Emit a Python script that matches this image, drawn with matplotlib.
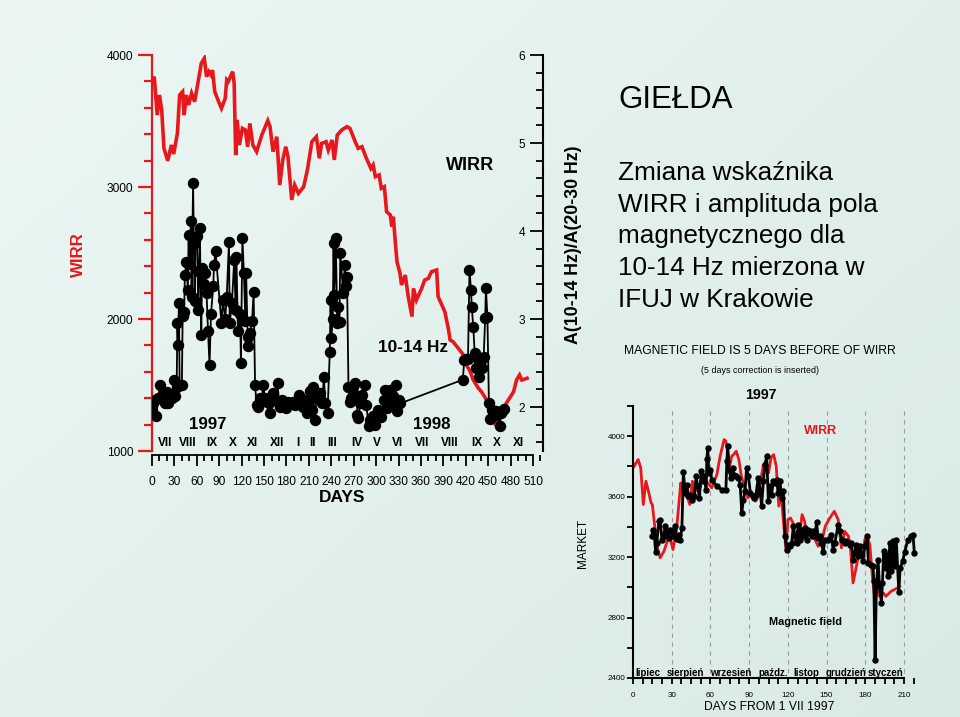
import matplotlib
matplotlib.use('Agg')
import matplotlib.pyplot as plt
import matplotlib.transforms as mtransforms
from matplotlib.ticker import MultipleLocator
import numpy as np

plt.rcParams['font.family'] = ['Liberation Sans', 'DejaVu Sans']

RED = '#e8171c'

# ---------------- left chart: WIRR (red) and field ratio (black) ----------------
wirr_days = [0, 3, 7, 10, 13, 16, 21, 26, 29, 34, 37, 41, 43, 46, 49, 53, 57, 61, 66, 70,
             73, 76, 79, 81, 84, 91, 93, 98, 100, 102, 108, 110, 112, 114, 117, 121, 125, 128,
             131, 135, 140, 147, 155, 158, 162, 167, 171, 175, 179, 182, 187, 191, 196, 203,
             208, 214, 220, 224, 227, 233, 236, 241, 244, 248, 254, 261, 265, 272, 276, 281,
             287, 293, 296, 299, 304, 307, 311, 314, 319, 321, 323, 326, 328, 332, 334, 339,
             343, 348, 350, 354, 361, 365, 370, 374, 381, 383, 388, 392, 397, 399, 403, 410,
             417, 421, 426, 430, 437, 441, 448, 453, 459, 464, 470, 477, 484, 488, 492, 495, 502]
wirr_vals = [3798, 3836, 3545, 3697, 3583, 3293, 3199, 3318, 3250, 3407, 3697, 3722, 3545, 3697,
             3621, 3710, 3646, 3773, 3937, 3975, 3836, 3874, 3848, 3886, 3722, 3621, 3596, 3671,
             3811, 3798, 3874, 3785, 3242, 3508, 3318, 3444, 3432, 3305, 3482, 3318, 3268, 3394,
             3503, 3457, 3268, 3381, 3015, 3205, 3305, 3230, 2902, 3015, 2952, 3002, 3129, 3343,
             3381, 3217, 3330, 3343, 3280, 3356, 3205, 3394, 3432, 3457, 3444, 3343, 3293, 3305,
             3217, 3141, 3167, 3078, 3091, 2990, 3002, 2813, 2788, 2699, 2775, 2560, 2432, 2346,
             2258, 2333, 2169, 2018, 2232, 2144, 2232, 2295, 2308, 2358, 2371, 2169, 2106, 2055,
             1917, 1841, 1828, 1778, 1727, 1652, 1601, 1538, 1475, 1449, 1386, 1323, 1210, 1235,
             1323, 1386, 1449, 1538, 1576, 1538, 1551]

ratio_days = [0, 2, 4, 6, 8, 11, 13, 15, 17, 20, 22, 25, 27, 29, 31, 33, 34, 35, 36, 37, 40, 41,
              43, 44, 46, 48, 49, 50, 52, 53, 55, 56, 57, 58, 60, 61, 62, 64, 66, 67, 69, 71, 73,
              75, 77, 79, 82, 83, 85, 93, 95, 98, 100, 103, 104, 107, 110, 112, 113, 115, 118,
              119, 121, 123, 125, 126, 128, 129, 131, 134, 136, 138, 140, 142, 145, 147, 149,
              151, 154, 156, 158, 160, 162, 165, 168, 170, 172, 174, 176, 178, 180, 182, 185,
              187, 189, 192, 194, 197, 199, 202, 205, 207, 209, 211, 214, 215, 218, 220, 222,
              225, 228, 230, 232, 235, 238, 239, 240, 242, 243, 244, 246, 248, 249, 251, 252,
              256, 258, 260, 261, 263, 265, 267, 269, 272, 274, 275, 276, 279, 281, 285, 287,
              290, 292, 294, 296, 298, 300, 303, 305, 307, 310, 312, 314, 316, 318, 320, 323,
              325, 326, 328, 330, 332, 416, 418, 420, 423, 425, 427, 428, 430, 432, 434, 436,
              438, 440, 442, 444, 446, 447, 449, 451, 453, 455, 457, 459, 461, 463, 466, 467,
              469, 471]
ratio_vals = [1.97, 2.05, 2.08, 1.90, 2.10, 2.25, 2.10, 2.12, 2.04, 2.17, 2.04, 2.14, 2.10, 2.31,
              2.12, 2.23, 2.96, 2.70, 3.18, 2.25, 2.25, 3.03, 3.08, 3.50, 3.65, 3.33, 3.95, 3.62,
              4.11, 3.25, 4.54, 3.85, 3.20, 3.90, 3.94, 3.55, 3.10, 4.03, 2.82, 3.58, 3.40, 3.52,
              3.29, 2.86, 2.48, 3.06, 3.37, 3.61, 3.77, 2.95, 3.22, 3.00, 3.25, 3.87, 2.95, 3.18,
              3.67, 3.10, 3.71, 2.86, 3.06, 2.50, 3.92, 3.52, 2.98, 3.52, 2.80, 2.69, 2.84, 2.98,
              3.31, 2.25, 2.02, 2.00, 2.10, 2.08, 2.25, 2.10, 2.06, 2.04, 1.93, 2.12, 2.16, 2.08,
              2.27, 2.05, 2.00, 2.08, 2.05, 2.06, 1.99, 2.06, 2.04, 2.05, 2.06, 2.02, 2.07, 2.14,
              2.05, 2.00, 2.08, 1.93, 2.06, 2.18, 1.97, 2.23, 1.85, 2.10, 2.15, 2.16, 2.04, 2.34,
              2.05, 1.93, 2.63, 3.22, 2.78, 3.00, 3.86, 3.27, 3.92, 2.95, 3.14, 2.97, 3.75, 3.29,
              3.61, 3.37, 3.48, 2.23, 2.06, 2.10, 2.23, 2.27, 2.12, 1.91, 1.87, 2.05, 2.14, 2.25,
              2.02, 1.78, 1.85, 1.84, 1.90, 1.80, 1.88, 1.97, 1.95, 1.89, 2.08, 2.19, 1.99, 2.05,
              2.19, 2.02, 2.12, 2.04, 2.25, 1.96, 2.08, 2.04, 2.31, 2.53, 2.55, 2.55, 3.56, 3.33,
              3.14, 2.91, 2.61, 2.44, 2.55, 2.34, 2.53, 2.44, 2.57, 3.01, 3.35, 3.02, 2.04, 1.86,
              1.97, 1.90, 1.91, 1.95, 1.93, 1.78, 1.93, 1.96, 1.98]

months_roman = ['VII', 'VIII', 'IX', 'X', 'XI', 'XII', 'I', 'II', 'III', 'IV', 'V', 'VI',
                'VII', 'VIII', 'IX', 'X', 'XI']
months_roman_days = [17, 48, 80, 108, 135, 167, 195, 215, 241, 274, 301, 328, 361, 399, 435,
                     462, 490]

# ---------------- bottom-right chart: market (WIRR) and magnetic field ----------------
mk_days = [0.5, 4, 6, 8, 10, 12, 14, 15, 17, 19, 21, 24, 27, 29, 31, 34, 37, 38, 40, 42, 44,
           46, 47, 49, 53, 57, 61, 65, 67.5, 70.6, 72, 74, 75, 76.5, 78, 80, 82, 84, 87, 89,
           92, 95, 97, 100, 101, 103, 105, 107, 109, 111, 113, 115, 116, 118.5, 120, 122, 124,
           125.5, 128, 129, 131, 133, 135, 138, 141, 143.5, 146, 149, 152.5, 156, 159, 161.5,
           164, 167, 168.5, 170.5, 172.6, 174.4, 175.7, 177.8, 179.6, 181.4, 183.5, 185.5, 187,
           189, 191, 194, 196, 200, 205, 206.6]
mk_wirr = [3797, 3846, 3790, 3548, 3702, 3636, 3559, 3548, 3393, 3261, 3195, 3239, 3316, 3316,
           3250, 3404, 3691, 3647, 3636, 3603, 3548, 3702, 3614, 3647, 3691, 3702, 3658, 3746,
           3868, 3978, 3967, 3857, 3801, 3868, 3879, 3901, 3846, 3735, 3647, 3592, 3625, 3570,
           3603, 3757, 3812, 3834, 3757, 3857, 3879, 3801, 3537, 3625, 3492, 3250, 3448, 3459,
           3426, 3316, 3382, 3338, 3481, 3437, 3327, 3382, 3316, 3272, 3294, 3404, 3459, 3503,
           3448, 3261, 3371, 3338, 3261, 3029, 3117, 3195, 3250, 3184, 3316, 3338, 3283, 3073,
           2952, 2985, 2941, 2963, 2941, 2974, 2996, 3007]

mf_days = [14.7, 15.5, 16.5, 17.5, 18.5, 20, 21, 22.4, 23.7, 25, 26, 27.6, 29, 31, 32.7, 34,
           35.3, 36.6, 37.9, 39, 40.5, 41.7, 43, 44.3, 46, 47.4, 49, 50, 51.5, 52.8, 54, 55,
           56.7, 57.2, 58, 58.7, 59.8, 61, 65, 68.8, 72, 72.7, 73.4, 74.5, 75.8, 77.3, 78.3,
           80, 81.7, 83, 84.3, 85.5, 86.8, 88, 89.4, 91, 92.8, 93.8, 95.3, 97, 98.4, 99.7, 101,
           102.3, 103.6, 104.9, 106, 107.4, 108.7, 110, 111.3, 112.6, 113.9, 115.2, 116.5,
           117.8, 119, 120.3, 121.6, 123, 124.2, 125.5, 126.8, 128, 129.4, 130.6, 132, 133.2,
           134.5, 135.8, 137, 138.4, 139.7, 141, 142.2, 143.5, 144.8, 146, 147.4, 148.7, 151,
           153.8, 155, 156.4, 159, 160.3, 161.6, 164, 165.4, 168, 169.3, 170.6, 171.9, 173,
           174.4, 175.7, 177, 178.3, 179.6, 181.4, 182.4, 184.7, 186, 186.6, 187.6, 188.6,
           189.9, 191, 192.5, 193.3, 194.3, 195.8, 196.9, 197.6, 199, 200.2, 201.5, 202.8,
           204, 206, 207, 209, 210.5, 213, 215.7, 217, 218]
mf_vals = [3338, 3382, 3349, 3232, 3294, 3437, 3448, 3316, 3338, 3404, 3365, 3327, 3382, 3338,
           3409, 3320, 3349, 3316, 3393, 3762, 3625, 3680, 3603, 3614, 3581, 3603, 3735, 3669,
           3592, 3768, 3702, 3735, 3647, 3846, 3923, 3757, 3779, 3713, 3669, 3647, 3647, 3834,
           3934, 3779, 3724, 3790, 3746, 3735, 3724, 3680, 3492, 3581, 3636, 3790, 3735, 3625,
           3603, 3592, 3614, 3724, 3647, 3537, 3702, 3812, 3868, 3570, 3669, 3614, 3702, 3691,
           3713, 3625, 3702, 3592, 3636, 3338, 3250, 3283, 3272, 3294, 3404, 3338, 3294, 3415,
           3316, 3382, 3338, 3393, 3316, 3382, 3360, 3338, 3371, 3338, 3431, 3327, 3338, 3294,
           3232, 3316, 3316, 3349, 3250, 3294, 3415, 3371, 3316, 3294, 3305, 3283, 3294, 3184,
           3228, 3283, 3206, 3272, 3228, 3173, 3272, 3342, 3162, 3150, 3140, 3040, 2521, 3007,
           3184, 3007, 2897, 3029, 3239, 3128, 3217, 3073, 3294, 3106, 3305, 3140, 3316, 2967,
           3128, 3173, 3232, 3316, 3338, 3349, 3228]

months_pl = ['lipiec', 'sierpień', 'wrzesień', 'paźdz.', 'listop', 'grudzień', 'styczeń']
months_pl_days = [11.6, 41, 76, 108.5, 134, 165, 195.5]

# ---------------- figure ----------------
W, H = 960, 717
fig = plt.figure(figsize=(W / 100, H / 100), dpi=100)


def rect(l, t, r, b):
    return [l / W, 1 - b / H, (r - l) / W, (b - t) / H]


def ftext(x, y, s, **kw):
    kw.setdefault('ha', 'center')
    kw.setdefault('va', 'center')
    fig.text(x / W, 1 - y / H, s, **kw)


# background gradient
bg = fig.add_axes([0, 0, 1, 1], zorder=-10)
gx, gy = np.meshgrid(np.linspace(0, 1, 64), np.linspace(0, 1, 64))
t = 0.55 * gx + 0.45 * gy
c0 = np.array([236, 247, 244]) / 255
c1 = np.array([217, 234, 230]) / 255
img = c0[None, None, :] * (1 - t[..., None]) + c1[None, None, :] * t[..., None]
bg.imshow(img, aspect='auto', extent=[0, 1, 0, 1], interpolation='bilinear')
bg.axis('off')

# left chart
DPX = 381 / 510.0
ax = fig.add_axes(rect(152, 55, 543, 451))
ax.patch.set_visible(False)
ax.plot(wirr_days, wirr_vals, color=RED, lw=2.6, solid_joinstyle='miter')
ax.set_xlim(0, 391 / DPX)
ax.set_ylim(1000, 4000)
for s in ['top', 'right']:
    ax.spines[s].set_visible(False)
ax.spines['left'].set_color(RED)
ax.spines['left'].set_linewidth(1.6)
ax.spines['bottom'].set_position(('outward', 3))
ax.spines['bottom'].set_bounds(0, 510)
ax.spines['bottom'].set_linewidth(1.3)
ax.yaxis.set_major_locator(MultipleLocator(1000))
ax.yaxis.set_minor_locator(MultipleLocator(200))
ax.tick_params(axis='y', which='major', direction='out', length=10, width=1.6, color=RED,
               labelsize=8.6, pad=3.5)
ax.tick_params(axis='y', which='minor', direction='out', length=6, width=1.6, color=RED)
ax.xaxis.set_major_locator(MultipleLocator(30))
ax.xaxis.set_minor_locator(MultipleLocator(10))
ax.tick_params(axis='x', which='major', direction='out', length=8, width=1.3, labelsize=8.6,
               pad=7)
ax.tick_params(axis='x', which='minor', direction='out', length=4.5, width=1.3)

ax2 = ax.twinx()
ax2.patch.set_visible(False)
ax2.plot(ratio_days, ratio_vals, color='black', lw=1.3, marker='o', ms=7.2)
ax2.set_ylim(1.5, 6)
for s in ['top', 'left', 'bottom']:
    ax2.spines[s].set_visible(False)
ax2.spines['right'].set_linewidth(1.5)
ax2.yaxis.set_major_locator(MultipleLocator(1))
ax2.yaxis.set_minor_locator(MultipleLocator(0.2))
ax2.tick_params(axis='y', which='major', direction='in', length=9.5, width=1.3,
                labelsize=8.6, pad=-17.5)
ax2.tick_params(axis='y', which='minor', direction='in', length=5, width=1.3)

trans = mtransforms.blended_transform_factory(ax.transData, ax.transAxes)
for lab, d in zip(months_roman, months_roman_days):
    ax.text(d, 0.02, lab, transform=trans, ha='center', va='center', fontsize=8.6,
            fontweight='bold')
ax.text(74, 0.066, '1997', transform=trans, ha='center', va='center', fontsize=12.2,
        fontweight='bold')
ax.text(375, 0.066, '1998', transform=trans, ha='center', va='center', fontsize=12.2,
        fontweight='bold')

ftext(413, 348, '10-14 Hz', fontsize=12.4, fontweight='bold')
ftext(470, 165, 'WIRR', fontsize=13, fontweight='bold')
ftext(78, 255, 'WIRR', fontsize=12.2, fontweight='bold', color=RED, rotation=90)
ftext(342, 498, 'DAYS', fontsize=12.5, fontweight='bold')
ftext(574, 245, 'A(10-14 Hz)/A(20-30 Hz)', fontsize=12.8, fontweight='bold', rotation=90)

# upper-right text block
ftext(618, 108, 'GIEŁDA', fontsize=22.5, ha='left', va='baseline')
body = ['Zmiana wskaźnika', 'WIRR i amplituda pola', 'magnetycznego dla',
        '10-14 Hz mierzona w', 'IFUJ w Krakowie']
for i, line in enumerate(body):
    ftext(618, 180 + 31.7 * i, line, fontsize=18.8, ha='left', va='baseline')
ftext(760, 354, 'MAGNETIC FIELD IS 5 DAYS BEFORE OF WIRR', fontsize=8.7, va='baseline')
ftext(760, 373, '(5 days correction is inserted)', fontsize=6.4, va='baseline')

# bottom-right chart
DPX2 = 271 / 210.0
ax3 = fig.add_axes(rect(633, 406, 633 + 220 * DPX2, 678))
ax3.patch.set_visible(False)
ax3.set_xlim(0, 220)
ax3.set_ylim(2400, 4200)
ax3.vlines(range(30, 211, 30), 2430, 4180, colors='#9c9c9c', linestyles=(0, (4, 4)), lw=0.8)
ax3.plot(mk_days, mk_wirr, color=RED, lw=2.0)
ax3.plot(mf_days, mf_vals, color='black', lw=2.0, marker='o', ms=3.6)
for s in ['top', 'right']:
    ax3.spines[s].set_visible(False)
ax3.spines['left'].set_bounds(2400, 4200)
ax3.spines['bottom'].set_bounds(0, 210)
ax3.spines['left'].set_linewidth(1.5)
ax3.spines['bottom'].set_linewidth(1.5)
ax3.yaxis.set_major_locator(MultipleLocator(400))
ax3.yaxis.set_minor_locator(MultipleLocator(200))
ax3.xaxis.set_major_locator(MultipleLocator(30))
ax3.xaxis.set_minor_locator(MultipleLocator(7.5))
ax3.tick_params(axis='both', which='both', direction='out', length=4.2, width=1.3,
                labelsize=5.8)
ax3.tick_params(axis='y', which='both', pad=1.5)
ax3.tick_params(axis='x', which='both', pad=6)

for lab, d in zip(months_pl, months_pl_days):
    ax3.text(d, 2433, lab, ha='center', va='center', fontsize=7, fontweight='bold')
ax3.text(99, 4273, '1997', ha='center', va='center', fontsize=10.2, fontweight='bold',
         clip_on=False)
ax3.text(145, 4032, 'WIRR', ha='center', va='center', fontsize=8.9, fontweight='bold',
         color=RED)
ax3.text(134, 2772, 'Magnetic field', ha='center', va='center', fontsize=7.8,
         fontweight='bold')
ftext(583, 543, 'MARKET', fontsize=8.5, rotation=90)
ftext(769, 707, 'DAYS FROM 1 VII 1997', fontsize=8.7)

fig.savefig('out.png', dpi=100, facecolor=fig.get_facecolor())
